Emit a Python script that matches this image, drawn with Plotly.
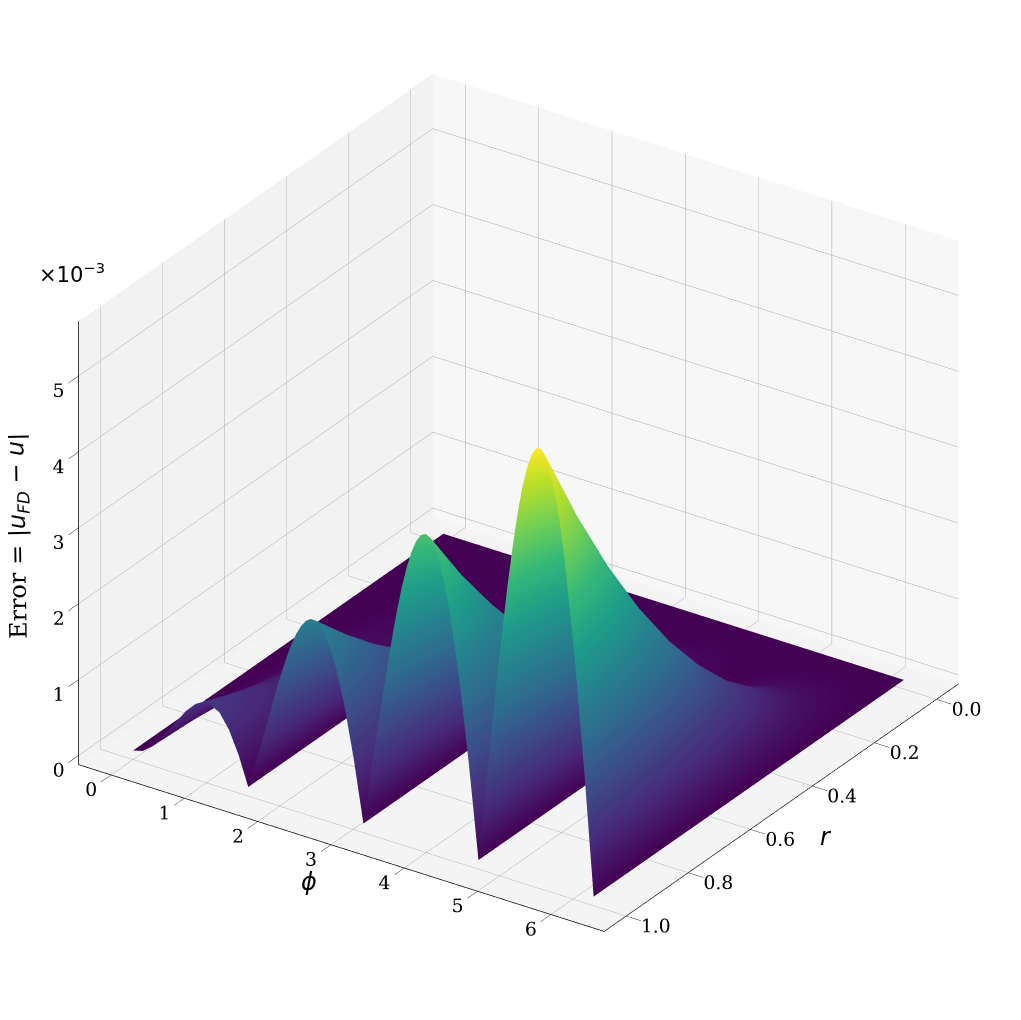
import plotly.graph_objects as go

# angle around the disc and radius (closer spacing over the crests)
phi_values = [0, .131, .262, .393, .524, .589, .654, .720, .785, .851, .916, .982, 1.047, 1.178, 1.309, 1.440,
              1.571, 1.702, 1.833, 1.963, 2.094, 2.160, 2.225, 2.291, 2.356, 2.422, 2.487, 2.553, 2.618, 2.749, 2.880, 3.011,
              3.142, 3.272, 3.403, 3.534, 3.600, 3.665, 3.731, 3.796, 3.862, 3.927, 3.992, 4.058, 4.123, 4.189, 4.254, 4.320, 4.451, 4.581,
              4.712, 4.843, 4.974, 5.105, 5.171, 5.236, 5.301, 5.367, 5.432, 5.498, 5.563, 5.629, 5.694, 5.760, 5.825, 5.890, 6.021, 6.152, 6.283]
r_values = [0, .1, .2, .3, .4, .5, .6, .7, .8, .9, 1.0]

# error in units of 1e-3, one row per radius
err_r00 = [0] * 69
err_r01 = [0, 0, 0, 0, 0, .01, .01, .01, .01, .01, .01, .01, .01, .01, .01, 0,
           0, 0, .01, .01, .02, .02, .02, .02, .02, .02, .02, .02, .02, .02, .01, .01,
           0, .01, .02, .02, .03, .03, .03, .03, .04, .04, .04, .04, .04, .03, .03, .03, .02, .01,
           0, .01, .02, .03, .04, .04, .05, .05, .05, .05, .05, .05, .05, .05, .04, .04, .03, .01, 0]
err_r02 = [0, 0, 0, .01, .02, .02, .02, .03, .03, .03, .03, .03, .03, .03, .02, .01,
           0, .02, .03, .05, .07, .07, .08, .08, .09, .09, .09, .09, .08, .07, .05, .03,
           0, .03, .06, .09, .11, .12, .13, .13, .14, .14, .15, .14, .14, .13, .12, .11, .08, .04,
           0, .05, .09, .13, .15, .17, .18, .19, .20, .20, .20, .20, .19, .18, .17, .15, .11, .06, 0]
err_r03 = [0, 0, .01, .02, .04, .05, .05, .06, .07, .07, .07, .08, .08, .07, .05, .03,
           0, .04, .08, .11, .15, .17, .18, .19, .20, .20, .20, .20, .19, .16, .12, .06,
           0, .07, .14, .21, .24, .26, .29, .30, .32, .33, .33, .32, .32, .30, .28, .25, .18, .10,
           0, .10, .21, .30, .34, .38, .41, .43, .45, .46, .46, .45, .44, .41, .38, .34, .25, .13, 0]
err_r04 = [0, 0, .02, .04, .07, .08, .09, .11, .12, .12, .13, .13, .13, .12, .10, .05,
           0, .06, .13, .20, .27, .29, .32, .33, .35, .35, .35, .35, .33, .29, .21, .11,
           0, .12, .25, .37, .42, .47, .51, .54, .56, .58, .58, .58, .56, .53, .50, .45, .33, .17,
           0, .18, .37, .53, .60, .67, .72, .76, .79, .81, .81, .80, .77, .73, .68, .61, .44, .23, 0]
err_r05 = [0, .01, .03, .06, .10, .13, .15, .16, .18, .19, .20, .21, .21, .19, .15, .09,
           0, .10, .21, .32, .42, .46, .49, .52, .54, .55, .55, .54, .52, .45, .33, .18,
           0, .19, .39, .57, .66, .73, .79, .84, .88, .90, .91, .90, .88, .83, .78, .70, .51, .27,
           0, .29, .57, .83, .94, 1.04, 1.13, 1.19, 1.24, 1.26, 1.27, 1.25, 1.21, 1.15, 1.06, .96, .69, .37, 0]
err_r06 = [0, .01, .04, .09, .15, .18, .21, .24, .26, .28, .29, .30, .30, .28, .22, .12,
           0, .15, .30, .46, .60, .66, .71, .75, .78, .80, .80, .78, .75, .64, .48, .26,
           0, .28, .56, .83, .95, 1.05, 1.14, 1.21, 1.27, 1.30, 1.31, 1.30, 1.26, 1.20, 1.12, 1.01, .74, .39,
           0, .42, .82, 1.20, 1.36, 1.50, 1.62, 1.72, 1.78, 1.82, 1.83, 1.80, 1.74, 1.65, 1.53, 1.38, 1.00, .53, 0]
err_r07 = [0, .02, .06, .12, .20, .25, .29, .32, .35, .38, .40, .41, .41, .38, .29, .17,
           0, .20, .41, .63, .82, .90, .97, 1.02, 1.06, 1.08, 1.08, 1.06, 1.02, .88, .65, .35,
           0, .38, .77, 1.13, 1.29, 1.43, 1.55, 1.65, 1.73, 1.77, 1.78, 1.77, 1.72, 1.64, 1.52, 1.38, 1.00, .53,
           0, .56, 1.12, 1.63, 1.85, 2.04, 2.21, 2.34, 2.43, 2.48, 2.49, 2.45, 2.37, 2.25, 2.08, 1.88, 1.36, .72, 0]
err_r08 = [0, .02, .08, .16, .27, .32, .37, .42, .46, .50, .52, .53, .53, .49, .39, .22,
           0, .26, .54, .82, 1.07, 1.18, 1.27, 1.34, 1.39, 1.41, 1.41, 1.39, 1.34, 1.14, .85, .46,
           0, .50, 1.00, 1.47, 1.68, 1.87, 2.03, 2.16, 2.25, 2.31, 2.33, 2.31, 2.24, 2.14, 1.99, 1.80, 1.31, .70,
           0, .74, 1.46, 2.13, 2.42, 2.67, 2.88, 3.05, 3.17, 3.24, 3.25, 3.20, 3.10, 2.94, 2.72, 2.45, 1.77, .94, 0]
err_r09 = [0, .03, .10, .21, .34, .41, .47, .53, .59, .63, .66, .68, .68, .62, .49, .28,
           0, .33, .68, 1.03, 1.35, 1.49, 1.60, 1.69, 1.76, 1.79, 1.79, 1.76, 1.69, 1.45, 1.07, .58,
           0, .63, 1.27, 1.86, 2.13, 2.37, 2.57, 2.73, 2.85, 2.93, 2.95, 2.92, 2.84, 2.70, 2.52, 2.28, 1.66, .88,
           0, .93, 1.85, 2.69, 3.06, 3.38, 3.65, 3.86, 4.01, 4.10, 4.11, 4.05, 3.92, 3.72, 3.44, 3.10, 2.24, 1.19, 0]
err_r10 = [0, .03, .12, .26, .42, .50, .58, .66, .72, .78, .81, .83, .83, .77, .60, .34,
           0, .41, .84, 1.28, 1.67, 1.84, 1.98, 2.09, 2.17, 2.21, 2.21, 2.17, 2.09, 1.79, 1.33, .72,
           0, .78, 1.57, 2.30, 2.63, 2.92, 3.17, 3.37, 3.52, 3.61, 3.64, 3.61, 3.51, 3.34, 3.11, 2.81, 2.05, 1.09,
           0, 1.15, 2.29, 3.32, 3.77, 4.17, 4.51, 4.77, 4.96, 5.06, 5.07, 5.00, 4.84, 4.59, 4.25, 3.83, 2.77, 1.47, 0]
err_rows = [err_r00, err_r01, err_r02, err_r03, err_r04, err_r05,
            err_r06, err_r07, err_r08, err_r09, err_r10]

# the table was read against the far z axis; the near edge of the box reads taller
near_edge_gain = 1.12

r_ticks = [0, .2, .4, .6, .8, 1.0]
phi_ticks = [0, 1, 2, 3, 4, 5, 6]
err_ticks = [0, 1, 2, 3, 4, 5]

SERIF = "DejaVu Serif"


def axis(tickvals, rng, bg, ticklen, tickformat=""):
    return dict(range=rng, tickvals=tickvals, tickformat=tickformat, title=dict(text=""),
                showbackground=True, backgroundcolor=bg, gridcolor="#a8a8a8", gridwidth=1,
                showline=True, linecolor="black", linewidth=1.5, zeroline=False,
                ticks="outside", ticklen=ticklen, tickcolor="black", tickwidth=1, tickangle=0,
                tickfont=dict(family=SERIF, size=15, color="black"))


z_table = [[v * near_edge_gain for v in row] for row in zip(*err_rows)]

fig = go.Figure(go.Surface(
    x=r_values, y=phi_values, z=z_table,
    colorscale="Viridis", cmin=0, cmax=5.68, showscale=False,
    lighting=dict(ambient=1.0, diffuse=0.1, specular=0.0, roughness=0.9, fresnel=0.0),
))

fig.update_layout(
    width=1021, height=1020,
    margin=dict(l=0, r=0, t=0, b=0),
    paper_bgcolor="white",
    font=dict(family=SERIF, color="black"),
    scene=dict(
        xaxis=axis(r_ticks, [-0.071, 1.071], "#f7f7f7", 18, ".1f"),
        yaxis=axis(phi_ticks, [-0.444, 6.727], "#f2f2f2", 18),
        zaxis=axis(err_ticks, [-0.12, 5.72], "#f4f4f4", 28),
        aspectmode="manual",
        aspectratio=dict(x=1.243, y=1.243, z=0.985),
        camera=dict(eye=dict(x=1.178, y=0.794, z=0.724), center=dict(x=0, y=0, z=-0.034),
                    projection=dict(type="orthographic")),
    ),
    annotations=[
        dict(text="<i>r</i>", x=818, y=829, showarrow=False,
             font=dict(family="DejaVu Sans", size=24)),
        dict(text="<i>ϕ</i>", x=301, y=874, showarrow=False,
             font=dict(family="DejaVu Sans", size=24)),
        dict(text="Error = <span style=\"font-family:'DejaVu Sans'\"><i>|u<sub>FD</sub> − u|</i></span>",
             x=10, y=528, textangle=-91, showarrow=False, font=dict(size=24)),
        dict(text="×10<sup>−3</sup>", x=64, y=265, showarrow=False,
             font=dict(family="DejaVu Sans", size=21)),
    ],
)
for ann in fig.layout.annotations:
    ann.update(xref="paper", yref="paper", x=ann.x / 1021, y=1 - ann.y / 1020,
               xanchor="center", yanchor="middle")

fig.write_html("out.html")
